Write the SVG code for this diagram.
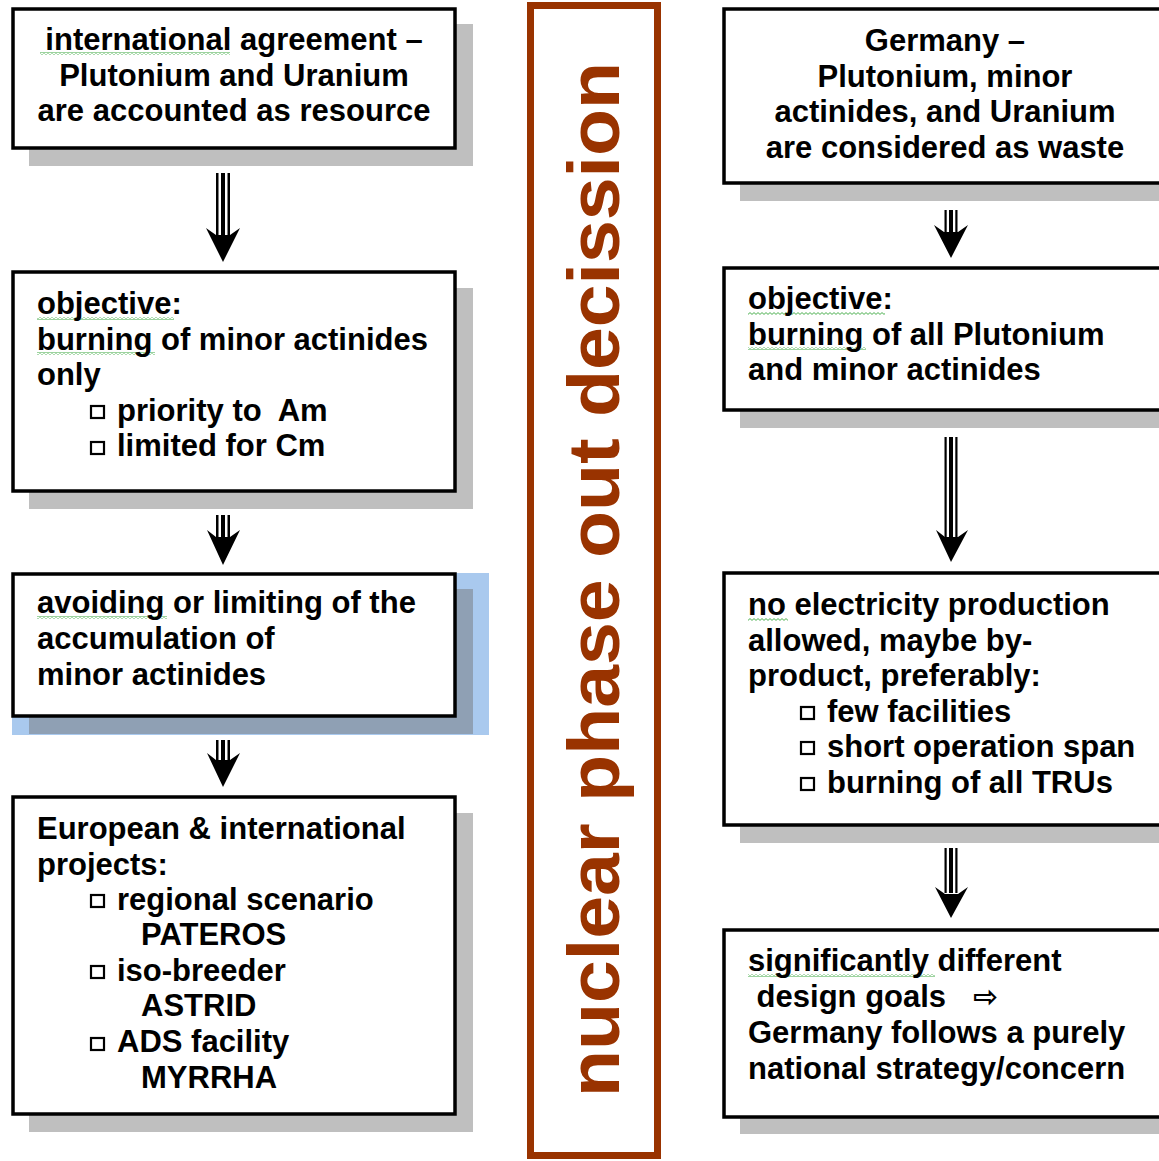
<svg xmlns="http://www.w3.org/2000/svg" width="1159" height="1161" viewBox="0 0 1159 1161">
<defs>
<style>
.box{fill:#ffffff;stroke:#000000;stroke-width:3.5}
.sh{fill:#bfbfbf}
.t{font-family:"Liberation Sans",Arial,sans-serif;font-weight:bold;font-size:31px;fill:#000000;white-space:pre}
.c{text-anchor:middle}
.bul{fill:#ffffff;stroke:#000000;stroke-width:2.2}
.wav{fill:url(#wave)}
</style>
<pattern id="wave" width="4" height="3" patternUnits="userSpaceOnUse">
<path d="M0,2.4 L2,0.6 L4,2.4" fill="none" stroke="#4caf50" stroke-width="1"/>
</pattern>
</defs>
<rect width="1159" height="1161" fill="#ffffff"/>

<g id="connectors">
<g id="a1">
<rect x="216" y="173" width="2.5" height="62" fill="#000"/>
<rect x="221" y="173" width="4" height="62" fill="#000"/>
<rect x="227.5" y="173" width="2.5" height="62" fill="#000"/>
<polygon points="206,228 216,235 230,235 240,228 223,262" fill="#000"/>
</g>
<g id="a2">
<rect x="216" y="515" width="2.5" height="25" fill="#000"/>
<rect x="221" y="515" width="4" height="25" fill="#000"/>
<rect x="227.5" y="515" width="2.5" height="25" fill="#000"/>
<polygon points="207,530 216,537 230,537 240,530 223,565" fill="#000"/>
</g>
<g id="a3">
<rect x="216" y="740" width="2.5" height="25" fill="#000"/>
<rect x="221" y="740" width="4" height="25" fill="#000"/>
<rect x="227.5" y="740" width="2.5" height="25" fill="#000"/>
<polygon points="207,753 216,760 230,760 240,753 223,787" fill="#000"/>
</g>
<g id="a4">
<rect x="944.5" y="210" width="2.2" height="22" fill="#000"/>
<rect x="949" y="210" width="4" height="22" fill="#000"/>
<rect x="955.3" y="210" width="2.2" height="22" fill="#000"/>
<polygon points="934,225 944,232 958,232 968,225 951,258" fill="#000"/>
</g>
<g id="a5">
<rect x="944.5" y="437" width="2.2" height="100" fill="#000"/>
<rect x="949" y="437" width="4" height="100" fill="#000"/>
<rect x="955.3" y="437" width="2.2" height="100" fill="#000"/>
<polygon points="936,530 945,537 958,537 968,530 951,562" fill="#000"/>
</g>
<g id="a6">
<rect x="944.5" y="848" width="2.2" height="45" fill="#000"/>
<rect x="949" y="848" width="4" height="45" fill="#000"/>
<rect x="955.3" y="848" width="2.2" height="45" fill="#000"/>
<polygon points="935,887 945,894 958,894 968,887 951,918" fill="#000"/>
</g>
</g>

<g id="n1">
<rect class="sh" x="29" y="24" width="444" height="142"/>
<rect class="box" x="13" y="9" width="442" height="139"/>
<rect class="wav" x="40" y="52" width="190" height="3"/>
<text class="t c" x="234" y="50">international agreement –</text>
<text class="t c" x="234" y="85.5">Plutonium and Uranium</text>
<text class="t c" x="234" y="121">are accounted as resource</text>
</g>

<g id="n2">
<rect class="sh" x="29" y="288" width="444" height="221"/>
<rect class="box" x="13" y="272" width="442" height="219"/>
<rect class="wav" x="37" y="317" width="137" height="3"/>
<rect class="wav" x="37" y="352" width="118" height="3"/>
<text class="t" x="37" y="314">objective:</text>
<text class="t" x="37" y="349.5">burning of minor actinides</text>
<text class="t" x="37" y="385">only</text>
<rect class="bul" x="91" y="406" width="13" height="12"/>
<text class="t" x="117" y="420.5">priority to  Am</text>
<rect class="bul" x="91" y="442" width="13" height="12"/>
<text class="t" x="117" y="456">limited for Cm</text>
</g>

<g id="n3">
<rect x="12" y="573" width="477" height="162" fill="#a9c9ee"/>
<rect x="29" y="589" width="444" height="145" fill="#8fa0b4"/>
<rect class="box" x="13" y="574" width="442" height="142"/>
<rect class="wav" x="37" y="616" width="130" height="3"/>
<text class="t" x="37" y="613">avoiding or limiting of the</text>
<text class="t" x="37" y="649">accumulation of</text>
<text class="t" x="37" y="685">minor actinides</text>
</g>

<g id="n4">
<rect class="sh" x="29" y="813" width="444" height="319"/>
<rect class="box" x="13" y="797" width="442" height="317"/>
<text class="t" x="37" y="839">European &amp; international</text>
<text class="t" x="37" y="874.5">projects:</text>
<rect class="bul" x="91" y="895" width="13" height="12"/>
<text class="t" x="117" y="910">regional scenario</text>
<text class="t" x="141" y="945">PATEROS</text>
<rect class="bul" x="91" y="966" width="13" height="12"/>
<text class="t" x="117" y="980.5">iso-breeder</text>
<text class="t" x="141" y="1016">ASTRID</text>
<rect class="bul" x="91" y="1038" width="13" height="12"/>
<text class="t" x="117" y="1052">ADS facility</text>
<text class="t" x="141" y="1087.5">MYRRHA</text>
</g>

<g id="decision">
<rect x="530.5" y="5.5" width="127" height="1150" fill="none" stroke="#993300" stroke-width="7"/>
<text transform="translate(619,579.5) rotate(-90)" text-anchor="middle" font-family="'Liberation Sans',Arial,sans-serif" font-weight="bold" font-size="73" fill="#993300" textLength="1035" lengthAdjust="spacingAndGlyphs">nuclear phase out decission</text>
</g>

<g id="r1">
<rect class="sh" x="740" y="25" width="444" height="176"/>
<rect class="box" x="724" y="9" width="442" height="174"/>
<text class="t c" x="945" y="51">Germany –</text>
<text class="t c" x="945" y="86.5">Plutonium, minor</text>
<text class="t c" x="945" y="122">actinides, and Uranium</text>
<text class="t c" x="945" y="157.5">are considered as waste</text>
</g>

<g id="r2">
<rect class="sh" x="740" y="284" width="444" height="144"/>
<rect class="box" x="724" y="268" width="442" height="142"/>
<rect class="wav" x="748" y="312" width="137" height="3"/>
<rect class="wav" x="748" y="347" width="118" height="3"/>
<text class="t" x="748" y="309">objective:</text>
<text class="t" x="748" y="344.5">burning of all Plutonium</text>
<text class="t" x="748" y="380">and minor actinides</text>
</g>

<g id="r3">
<rect class="sh" x="740" y="589" width="444" height="254"/>
<rect class="box" x="724" y="573" width="442" height="252"/>
<rect class="wav" x="748" y="618" width="40" height="3"/>
<text class="t" x="748" y="615">no electricity production</text>
<text class="t" x="748" y="650.5">allowed, maybe by-</text>
<text class="t" x="748" y="686">product, preferably:</text>
<rect class="bul" x="801" y="707" width="13" height="12"/>
<text class="t" x="827" y="721.5">few facilities</text>
<rect class="bul" x="801" y="742" width="13" height="12"/>
<text class="t" x="827" y="757">short operation span</text>
<rect class="bul" x="801" y="778" width="13" height="12"/>
<text class="t" x="827" y="792.5">burning of all TRUs</text>
</g>

<g id="r4">
<rect class="sh" x="740" y="946" width="444" height="188"/>
<rect class="box" x="724" y="930" width="442" height="187"/>
<rect class="wav" x="748" y="974" width="187" height="3"/>
<text class="t" x="748" y="971">significantly different</text>
<text class="t" x="748" y="1007"> design goals</text>
<text x="973" y="1007" font-family="'DejaVu Sans',sans-serif" font-weight="bold" font-size="30" fill="#000">⇨</text>
<text class="t" x="748" y="1043">Germany follows a purely</text>
<text class="t" x="748" y="1079">national strategy/concern</text>
</g>
</svg>
